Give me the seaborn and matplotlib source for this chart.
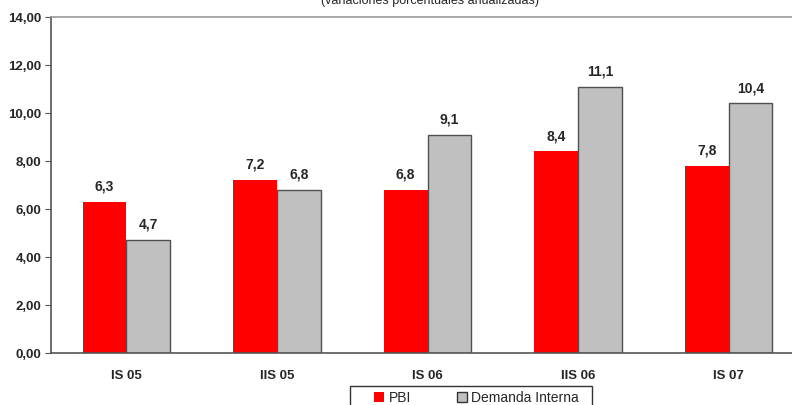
import numpy as np
import pandas as pd
import seaborn as sns
import matplotlib.pyplot as plt
from matplotlib.patches import Patch, Rectangle

periodos = ["IS 05", "IIS 05", "IS 06", "IIS 06", "IS 07"]
pbi = [6.3, 7.2, 6.8, 8.4, 7.8]
demanda = [4.7, 6.8, 9.1, 11.1, 10.4]
series = ["PBI", "Demanda Interna"]
colores = ["#ff0000", "#c0c0c0"]

df = pd.DataFrame({
    "periodo": periodos * 2,
    "serie": [series[0]] * len(periodos) + [series[1]] * len(periodos),
    "valor": pbi + demanda,
})

sns.set_style("white")
plt.rcParams["font.family"] = ["Liberation Sans", "DejaVu Sans"]

W, H = 792, 405
fig = plt.figure(figsize=(W / 100, H / 100), dpi=100)
ax = fig.add_axes([51 / W, 1 - 353 / H, (804 - 51) / W, (353 - 17) / H])

sns.barplot(data=df, x="periodo", y="valor", hue="serie", palette=colores,
            width=0.58, ax=ax, legend=False, saturation=1)

for i, cont in enumerate(ax.containers):
    for bar in cont:
        if i == 1:
            bar.set_edgecolor("#505050")
            bar.set_linewidth(1.0)
        else:
            bar.set_linewidth(0)
    ax.bar_label(cont, labels=[f"{v:.1f}".replace(".", ",") for v in cont.datavalues],
                 padding=6, fontsize=10, fontweight="bold")

ax.set_ylim(0, 14)
ax.set_xlim(-0.5, 4.5)
ax.set_yticks(np.arange(0, 14.1, 2))
ax.set_yticklabels([f"{v:.2f}".replace(".", ",") for v in np.arange(0, 14.1, 2)],
                   fontsize=9.5, fontweight="bold")
ax.set_xticks(np.arange(-0.5, 4.6, 1), minor=True)
ax.set_xticks(range(len(periodos)))
ax.set_xticklabels(periodos, fontsize=9.5, fontweight="bold")
ax.tick_params(axis="x", which="major", length=0, pad=12)
ax.tick_params(axis="x", which="minor", length=4, color="#555555", direction="out")
ax.tick_params(axis="y", length=4, color="#555555", direction="out", left=True, pad=3)
ax.set_xlabel("")
ax.set_ylabel("")

for s in ["left", "bottom"]:
    ax.spines[s].set_color("#555555")
    ax.spines[s].set_linewidth(1.2)
ax.spines["right"].set_visible(False)
ax.spines["top"].set_color("#999999")
ax.spines["top"].set_linewidth(1.2)

fig.text(430 / W, 1 - 1 / H, "(variaciones porcentuales anualizadas)", ha="center",
         va="center", fontsize=9)

# legend box, cut by the bottom edge like the original
fig.patches.append(Rectangle((350 / W, 0 - 10 / H), (592 - 350) / W, (405 - 386 + 10) / H,
                             transform=fig.transFigure, facecolor="white",
                             edgecolor="#333333", linewidth=1.0))
handles = [Patch(facecolor=colores[0], edgecolor="none"),
           Patch(facecolor=colores[1], edgecolor="#333333")]
leg = fig.legend(handles, series, loc="center left", bbox_to_anchor=(374 / W, 1 - 398 / H),
                 ncol=2, frameon=False, fontsize=10, handlelength=0.75, handleheight=0.75,
                 handletextpad=0.3, columnspacing=3.3, borderpad=0, borderaxespad=0)

fig.savefig("out.png", dpi=100)
